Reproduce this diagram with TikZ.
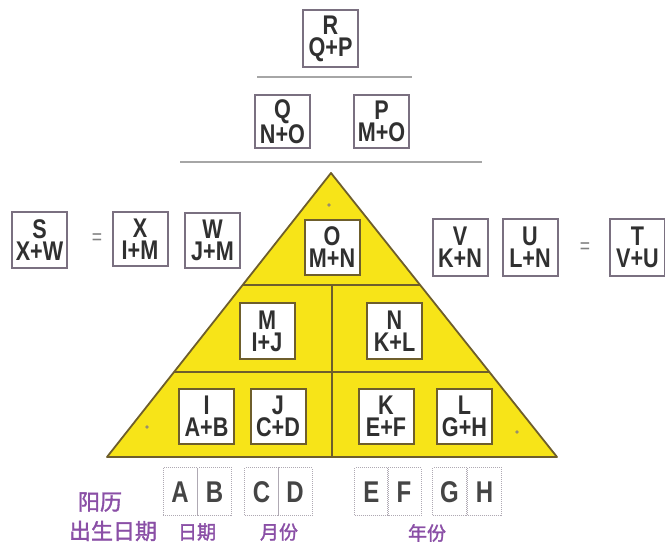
\documentclass[tikz,border=0pt]{standalone}
\usepackage{fontspec}
\usetikzlibrary{calc}
\newfontfamily\boxfont[FakeStretch=0.8]{Liberation Sans}
\newfontfamily\cjk[FakeBold=1.6]{Noto Sans CJK SC}
\definecolor{tri}{HTML}{F7E418}
\definecolor{triline}{HTML}{6E5E2C}
\definecolor{boxline}{HTML}{7A7080}
\definecolor{txt}{HTML}{303030}
\definecolor{lab}{HTML}{8A4FA6}
\tikzset{
  bx/.style={draw=boxline, line width=2pt, fill=white, minimum width=55pt, minimum height=55pt,
    inner sep=0pt, align=center, text=txt, font={\boxfont\bfseries\fontsize{27}{22}\selectfont}},
  inbx/.style={bx, draw=triline},
  cell/.style={draw=boxline!60, densely dotted, line width=1pt, minimum width=34pt, minimum height=48pt,
    inner sep=0pt, text=txt!90, font={\boxfont\bfseries\fontsize{30}{30}\selectfont}},
  eq/.style={text=gray, font={\boxfont\fontsize{22}{22}\selectfont}},
  rule/.style={draw=gray!70, line width=1.4pt},
  lbl/.style={text=lab, font={\cjk\fontsize{22}{22}\selectfont}, inner sep=0pt},
  slbl/.style={text=lab, font={\cjk\fontsize{19}{20}\selectfont}, inner sep=0pt},
  dot/.style={fill=triline!70, draw=none}
}
\begin{document}
\begin{tikzpicture}[x=1pt,y=-1pt]
\useasboundingbox (0,0) rectangle (665,545);
% top part
\node[bx, minimum height=57pt] (R) at (330.5,38.5) {R\\Q+P};
\coordinate (r1) at (257,77); \coordinate (r2) at (412,77);
\draw[rule] (r1) -- (r2);
\node[bx, minimum height=53pt] (Q) at (282.5,121.5) {Q\\N+O};
\node[bx, minimum height=53pt] (P) at (381.5,121.5) {P\\M+O};
\coordinate (s1) at (180,162); \coordinate (s2) at (482,162);
\draw[rule] (s1) -- (s2);
% triangle
\coordinate (apex) at (331,173);
\coordinate (bl) at (107,457);
\coordinate (br) at (557,457);
\draw[fill=tri, draw=triline, line width=1.8pt, line join=round] (apex) -- (br) -- (bl) -- cycle;
\coordinate (h1l) at ($(apex)!0.3944!(bl)$);
\coordinate (h1r) at ($(apex)!0.3944!(br)$);
\coordinate (h2l) at ($(apex)!0.7007!(bl)$);
\coordinate (h2r) at ($(apex)!0.7007!(br)$);
\coordinate (v1) at (332,285); \coordinate (v2) at (332,457);
\draw[draw=triline, line width=1.4pt] (h1l) -- (h1r) (h2l) -- (h2r) (v1) -- (v2);
\fill[dot] (329,205) circle (1.8pt) (147,427) circle (1.8pt) (517,432) circle (1.8pt);
\node[inbx] (O) at (332,247.5) {O\\M+N};
\node[inbx, minimum height=56pt] (M) at (267,331) {M\\I+J};
\node[inbx, minimum height=56pt] (N) at (394.5,331) {N\\K+L};
\node[inbx] (I) at (206.5,416.5) {I\\A+B};
\node[inbx] (J) at (278,416.5) {J\\C+D};
\node[inbx] (K) at (386,416.5) {K\\E+F};
\node[inbx] (L) at (464.5,416.5) {L\\G+H};
% side boxes
\node[bx, minimum height=56pt] (S) at (39.5,240) {S\\X+W};
\node[eq] (eq1) at (97,239) {=};
\node[bx, minimum height=54pt] (X) at (140,239) {X\\I+M};
\node[bx] (W) at (212.5,240.5) {W\\J+M};
\node[bx, minimum height=57pt] (V) at (460,247.5) {V\\K+N};
\node[bx, minimum height=57pt] (U) at (530,247.5) {U\\L+N};
\node[eq] (eq2) at (585,248) {=};
\node[bx, minimum height=57pt] (T) at (637.5,247.5) {T\\V+U};
% bottom cells
\node[cell] (A) at (180,492) {A};
\node[cell] (B) at (214.5,492) {B};
\node[cell] (C) at (261.5,492) {C};
\node[cell] (D) at (295,492) {D};
\node[cell] (E) at (371.5,492) {E};
\node[cell] (F) at (404,492) {F};
\node[cell] (G) at (449.5,492) {G};
\node[cell] (H) at (484.5,492) {H};
% labels
\node[lbl] (yl) at (100,502) {阳历};
\node[lbl] (cs) at (113,531) {出生日期};
\node[slbl] (rq) at (197,532) {日期};
\node[slbl] (yf) at (279,532) {月份};
\node[slbl] (nf) at (427,533) {年份};
\end{tikzpicture}
\end{document}
